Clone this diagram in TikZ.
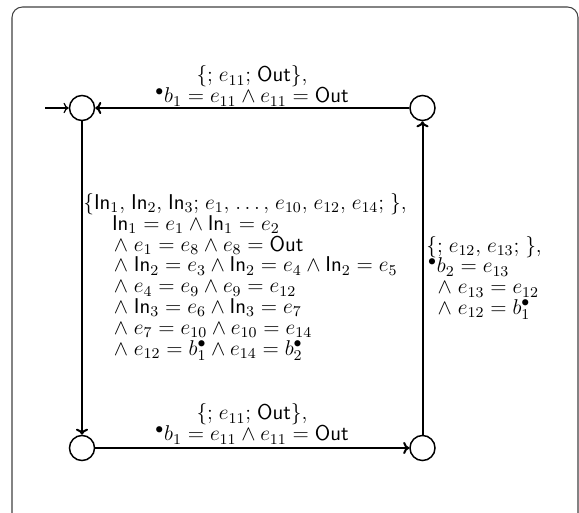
\RequirePackage{fix-cm}
\documentclass[tikz,border=0pt]{standalone}
\usetikzlibrary{arrows.meta}
\newcommand{\In}{\mathsf{In}}
\newcommand{\Out}{\mathsf{Out}}
\newcommand{\eqq}{\mathrel{\textsf{=}}}
\newcommand{\pre}{{}^{\bullet}}
\newcommand{\cm}{,\mkern2mu}
\newcommand{\sm}{;\mkern2mu}
\newcommand{\lblfont}{\fontsize{12.3}{12}\selectfont\lineskiplimit-20pt\relax}
\begin{document}
\begin{tikzpicture}[x=0.575pt,y=-0.575pt,
  place/.style={circle,draw,line width=0.85pt,minimum size=14.4pt,inner sep=0pt},
  arc/.style={line width=1.15pt,-{To[length=3.5pt,width=7pt]}},
  lbl/.style={inner sep=0pt,font=\lblfont}]
\useasboundingbox (0,0) rectangle (579,513);
\clip (0,0) rectangle (579,513);
\draw[line width=0.6pt,black!75,rounded corners=6pt] (12,7) rectangle (578,540);
\node[place] (tl) at (82,108) {};
\node[place] (tr) at (422.5,108) {};
\node[place] (bl) at (82,448) {};
\node[place] (br) at (422.5,448) {};
\coordinate (init) at (45,108);
\draw[line width=0.7pt,-{To[length=3pt,width=6pt]}] (init) -- (tl);
\draw[arc] (tr) -- (tl);
\draw[arc] (tl) -- (bl);
\draw[arc] (bl) -- (br);
\draw[arc] (br) -- (tr);
\node[lbl,align=center] (ltop) at (252,86)
  {$\{\sm e_{11}\sm \Out\}$,\\ $\pre b_1 \eqq e_{11} \wedge e_{11} \eqq \Out$};
\node[lbl,align=center] (lbot) at (252,424)
  {$\{\sm e_{11}\sm \Out\}$,\\ $\pre b_1 \eqq e_{11} \wedge e_{11} \eqq \Out$};
\node[lbl,align=left,anchor=west] (lleft) at (83,277)
  {$\{\In_1\cm \In_2\cm \In_3\sm e_1\cm \ldots\cm e_{10}\cm e_{12}\cm e_{14}\sm \}$,\\
   \hspace{16.5pt}$\In_1 \eqq e_1 \wedge \In_1 \eqq e_2$\\
   \hspace{17.5pt}$\wedge\; e_1 \eqq e_8 \wedge e_8 \eqq \Out$\\
   \hspace{17.5pt}$\wedge\; \In_2 \eqq e_3 \wedge \In_2 \eqq e_4 \wedge \In_2 \eqq e_5$\\
   \hspace{17.5pt}$\wedge\; e_4 \eqq e_9 \wedge e_9 \eqq e_{12}$\\
   \hspace{17.5pt}$\wedge\; \In_3 \eqq e_6 \wedge \In_3 \eqq e_7$\\
   \hspace{17.5pt}$\wedge\; e_7 \eqq e_{10} \wedge e_{10} \eqq e_{14}$\\
   \hspace{17.5pt}$\wedge\; e_{12} \eqq b_1^{\bullet} \wedge e_{14} \eqq b_2^{\bullet}$};
\node[lbl,align=left,anchor=west] (lright) at (426,278)
  {$\{\sm e_{12}\cm e_{13}\sm \}$,\\
   \hspace{1pt}$\pre b_2 \eqq e_{13}$\\
   \hspace{6.5pt}$\wedge\; e_{13} \eqq e_{12}$\\
   \hspace{6.5pt}$\wedge\; e_{12} \eqq b_1^{\bullet}$};
\end{tikzpicture}
\end{document}
